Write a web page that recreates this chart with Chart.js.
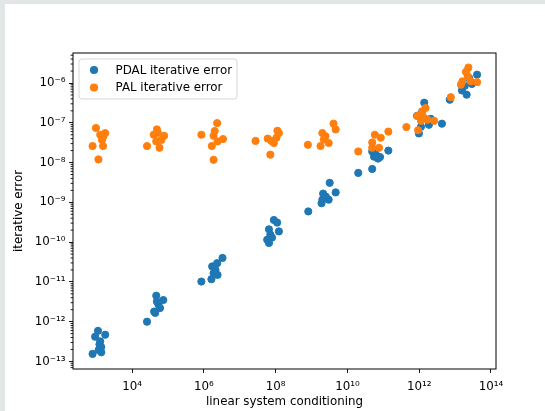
<!DOCTYPE html>
<html>
<head>
<meta charset="utf-8">
<script src="https://cdn.jsdelivr.net/npm/chart.js@4"></script>
<style>
  html, body { margin: 0; padding: 0; background: #e3e6e7; overflow: hidden; width: 100%; height: 100%; }
  #panel { position: fixed; left: 5px; top: 4px; right: -20px; bottom: -20px; background: #fff; }
  #chart { display: block; position: absolute; left: 0; top: 0; }
</style>
</head>
<body>
<div id="panel"><canvas id="chart" width="540" height="407"></canvas></div>
<script>
// PDAL: condition number vs iterative error
const pdalCond = [
  7.9e2, 1.12e3, 9.3e2, 1.78e3, 1.29e3, 1.38e3, 1.17e3, 1.38e3, 1.23e3,
  2.6e4, 4.7e4, 7.4e4, 4.1e4, 5.4e4, 4.9e4, 6.0e4, 4.4e4,
  8.5e5, 1.62e6, 1.86e6, 1.7e6, 2.34e6, 3.3e6, 2.1e6, 2.4e6,
  6.5e7, 8.9e7, 1.1e8, 6.5e7, 1.23e8, 7.1e7, 5.8e7, 7.9e7,
  8.1e8, 1.9e9, 2.1e9, 3.2e9, 4.7e9, 3.0e9, 2.0e9, 2.5e9,
  2.0e10, 4.9e10, 4.9e10, 8.1e10, 1.38e11, 6.2e10, 5.5e10, 7.1e10,
  1.38e12, 9.8e11, 1.86e12, 4.3e12, 8.7e11, 1.2e12, 2.1e12, 1.12e12,
  4.1e13, 2.1e13, 1.55e13, 7.1e12, 2.45e13, 1.86e13, 2.95e13
];
const pdalErr = [
  1.55e-13, 5.9e-13, 4.2e-13, 4.7e-13, 3.2e-13, 2.3e-13, 1.95e-13, 1.7e-13, 2.7e-13,
  1.0e-12, 4.5e-12, 3.5e-12, 1.8e-12, 2.7e-12, 3.2e-12, 2.2e-12, 1.66e-12,
  1.02e-11, 1.17e-11, 1.66e-11, 2.45e-11, 2.95e-11, 4.0e-11, 2.0e-11, 1.5e-11,
  9.5e-11, 3.6e-10, 3.1e-10, 2.1e-10, 1.86e-10, 1.55e-10, 1.15e-10, 1.3e-10,
  5.9e-10, 9.5e-10, 1.66e-9, 3.1e-9, 1.78e-9, 1.17e-9, 1.17e-9, 1.4e-9,
  5.5e-9, 6.9e-9, 1.9e-8, 1.38e-8, 2.0e-8, 1.58e-8, 1.41e-8, 1.26e-8,
  3.2e-7, 5.4e-8, 8.9e-8, 9.5e-8, 1.5e-7, 1.9e-7, 1.26e-7, 7.9e-8,
  1.62e-6, 5.1e-7, 6.5e-7, 3.8e-7, 1.35e-6, 8.5e-7, 9.5e-7
];

// PAL: condition number vs iterative error
const palCond = [
  9.8e2, 7.9e2, 1.15e3, 1.78e3, 1.45e3, 1.55e3, 1.29e3, 1.58e3,
  2.6e4, 4.9e4, 7.8e4, 4.0e4, 5.8e4, 4.7e4, 6.5e4, 5.2e4,
  8.5e5, 2.34e6, 1.86e6, 3.4e6, 1.66e6, 1.86e6, 2.4e6, 2.0e6,
  2.75e7, 6.0e7, 1.23e8, 7.1e7, 8.9e7, 1.05e8, 7.6e7, 1.12e8,
  7.9e8, 2.0e9, 4.1e9, 4.7e9, 1.78e9, 3.0e9, 2.45e9, 2.2e9,
  2.0e10, 4.9e10, 5.8e10, 8.5e10, 1.38e11, 7.6e10, 4.9e10, 4.4e11,
  9.3e11, 8.9e11, 1.23e12, 1.5e12, 1.38e12, 1.7e12, 2.6e12, 1.12e12,
  7.6e12, 2.35e13, 2.25e13, 1.6e13, 1.45e13, 2.75e13, 4.1e13, 2.0e13
];
const palErr = [
  7.4e-8, 2.6e-8, 1.2e-8, 5.5e-8, 3.7e-8, 2.6e-8, 5.0e-8, 4.6e-8,
  2.6e-8, 6.8e-8, 4.7e-8, 5.0e-8, 2.35e-8, 3.4e-8, 3.7e-8, 5.6e-8,
  5.0e-8, 9.8e-8, 4.7e-8, 3.9e-8, 2.6e-8, 1.17e-8, 3.4e-8, 6.2e-8,
  3.5e-8, 4.0e-8, 5.5e-8, 1.58e-8, 3.1e-8, 4.2e-8, 3.5e-8, 6.3e-8,
  2.8e-8, 5.5e-8, 9.5e-8, 6.8e-8, 2.6e-8, 3.1e-8, 4.6e-8, 3.8e-8,
  1.9e-8, 3.2e-8, 5.0e-8, 4.2e-8, 6.0e-8, 2.35e-8, 2.35e-8, 7.8e-8,
  6.5e-8, 1.5e-7, 1.95e-7, 2.35e-7, 1.32e-7, 1.2e-7, 1.12e-7, 1.12e-7,
  4.4e-7, 2.45e-6, 1.48e-6, 1.1e-6, 9.1e-7, 1.1e-6, 1.05e-6, 1.9e-6
];

const xTicks = [1e4, 1e6, 1e8, 1e10, 1e12, 1e14];
const yTicks = [1e-13, 1e-12, 1e-11, 1e-10, 1e-9, 1e-8, 1e-7, 1e-6];

Chart.defaults.font.family = "'DejaVu Sans', sans-serif";
Chart.defaults.font.size = 11.85;
Chart.defaults.color = '#000';

const SUP = { '0': '⁰', '1': '¹', '2': '²', '3': '³', '4': '⁴', '5': '⁵', '6': '⁶', '7': '⁷', '8': '⁸', '9': '⁹', '-': '⁻' };
function powLabel(v) {
  const e = String(Math.round(Math.log10(v)));
  return '10' + e.split('').map(c => SUP[c]).join('');
}

function toPoints(xs, ys) {
  return xs.map((x, i) => ({ x: x, y: ys[i] }));
}

// axes frame + y minor ticks
const framePlugin = {
  id: 'frame',
  afterDraw(chart) {
    const { ctx, chartArea: a } = chart;
    const ys = chart.scales.y;
    ctx.save();
    ctx.strokeStyle = '#000';
    ctx.lineWidth = 0.9;
    for (let e = -14; e <= -5; e++) {
      for (let k = 2; k <= 9; k++) {
        const v = k * Math.pow(10, e);
        if (v < ys.min || v > ys.max) continue;
        const py = ys.getPixelForValue(v);
        ctx.beginPath();
        ctx.moveTo(a.left - 2.4, py);
        ctx.lineTo(a.left, py);
        ctx.stroke();
      }
    }
    ctx.lineWidth = 1;
    ctx.strokeRect(a.left, a.top, a.right - a.left, a.bottom - a.top);
    ctx.restore();
  }
};

// legend box in the upper left of the axes
const legendPlugin = {
  id: 'boxLegend',
  afterDraw(chart) {
    const { ctx, chartArea: a } = chart;
    const x0 = a.left + 6, y0 = a.top + 6, w = 158, h = 40, r = 3;
    ctx.save();
    ctx.beginPath();
    ctx.roundRect(x0, y0, w, h, r);
    ctx.fillStyle = 'rgba(255,255,255,0.8)';
    ctx.fill();
    ctx.strokeStyle = 'rgba(204,204,204,0.8)';
    ctx.lineWidth = 1;
    ctx.stroke();
    ctx.font = "11.85px 'DejaVu Sans'";
    ctx.textBaseline = 'middle';
    chart.data.datasets.forEach((ds, i) => {
      const cy = y0 + 11 + i * 17.5;
      ctx.beginPath();
      ctx.arc(x0 + 15, cy, 4.1, 0, Math.PI * 2);
      ctx.fillStyle = ds.backgroundColor;
      ctx.fill();
      ctx.fillStyle = '#000';
      ctx.fillText(ds.label, x0 + 36.5, cy + 0.5);
    });
    ctx.restore();
  }
};

new Chart(document.getElementById('chart'), {
  type: 'scatter',
  data: {
    datasets: [
      {
        label: 'PDAL iterative error',
        data: toPoints(pdalCond, pdalErr),
        backgroundColor: '#1f77b4',
        borderColor: '#1f77b4',
        borderWidth: 1,
        pointRadius: 3.6,
        order: 2
      },
      {
        label: 'PAL iterative error',
        data: toPoints(palCond, palErr),
        backgroundColor: '#ff7f0e',
        borderColor: '#ff7f0e',
        borderWidth: 1,
        pointRadius: 3.6,
        order: 1
      }
    ]
  },
  options: {
    responsive: false,
    animation: false,
    layout: { padding: { left: 0, top: 49, right: 49, bottom: 0 } },
    plugins: {
      legend: { display: false },
      tooltip: { enabled: false }
    },
    scales: {
      x: {
        type: 'logarithmic',
        min: 225,
        max: 1.38e14,
        afterBuildTicks: s => { s.ticks = xTicks.map(v => ({ value: v })); },
        afterFit: s => { s.height = 42; },
        ticks: { autoSkip: false, maxRotation: 0, padding: 7, callback: v => powLabel(v) },
        grid: { drawOnChartArea: false, tickLength: 4, tickColor: '#000', tickWidth: 0.9 },
        border: { display: false },
        title: { display: true, text: 'linear system conditioning', padding: { top: 0, bottom: 2 } }
      },
      y: {
        type: 'logarithmic',
        min: 6.46e-14,
        max: 5.68e-6,
        afterBuildTicks: s => { s.ticks = yTicks.map(v => ({ value: v })); },
        afterFit: s => { s.width = 68; },
        ticks: { autoSkip: false, padding: 3.5, callback: v => powLabel(v) },
        grid: { drawOnChartArea: false, tickLength: 4, tickColor: '#000', tickWidth: 0.9 },
        border: { display: false },
        title: { display: true, text: 'iterative error', padding: { top: 7, bottom: 0 } }
      }
    }
  },
  plugins: [framePlugin, legendPlugin]
});
</script>
</body>
</html>
